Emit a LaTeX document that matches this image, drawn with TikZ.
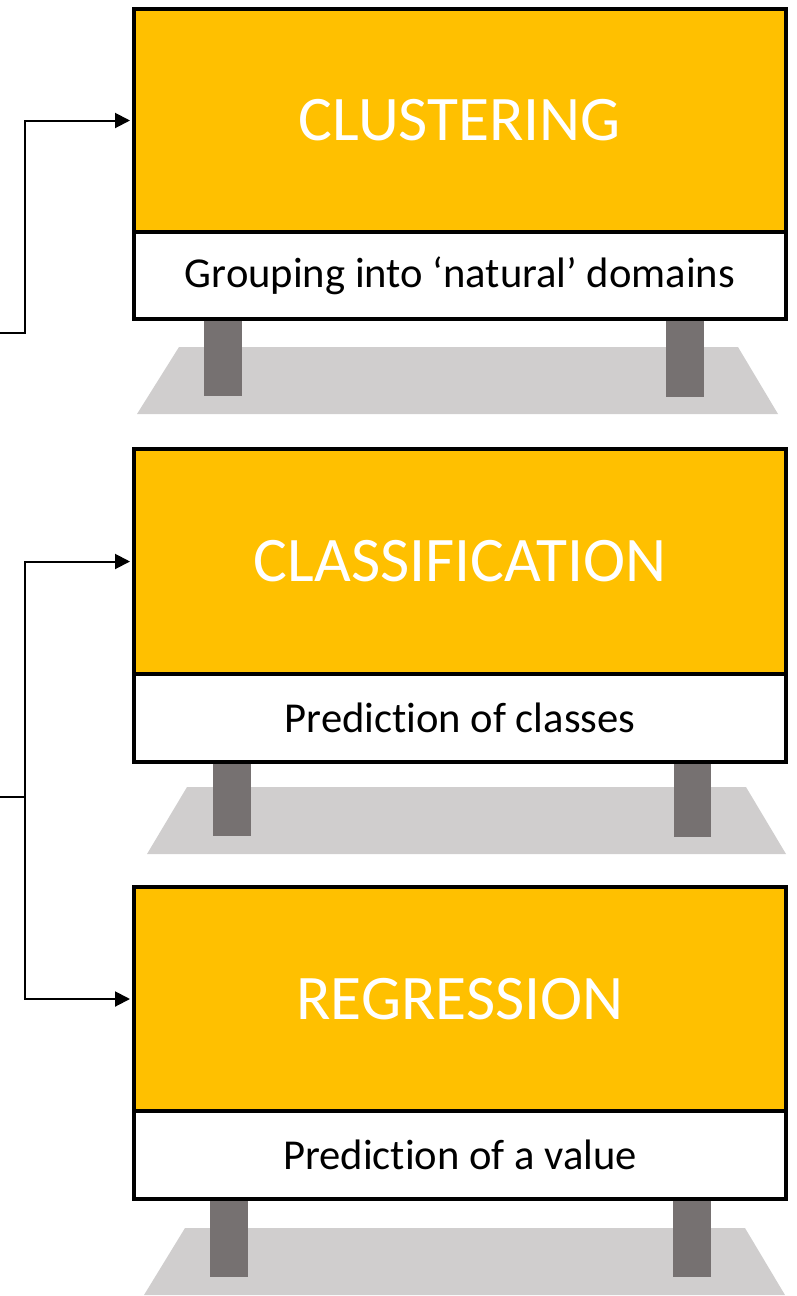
\documentclass[tikz,border=0pt]{standalone}
\usepackage{fontspec}
\setmainfont{Carlito}[Ligatures=NoCommon]
\usetikzlibrary{arrows.meta}
\definecolor{signorange}{HTML}{FFC000}
\definecolor{postgray}{HTML}{767171}
\definecolor{basegray}{HTML}{D0CECE}
\begin{document}
\begin{tikzpicture}[x=1pt,y=-1pt,
  titlebox/.style={draw=black,line width=4pt,fill=signorange,text=white,minimum width=652pt,inner sep=0pt,font=\fontsize{63.5}{70}\selectfont,anchor=north west},
  subbox/.style={draw=black,line width=4pt,fill=white,text=black,minimum width=652pt,inner sep=0pt,font=\fontsize{42.6}{48}\selectfont,anchor=north west},
  postbar/.style={fill=postgray},
  groundbase/.style={fill=basegray},
  conn/.style={line width=2pt,-{Triangle[length=15pt,width=15pt]},shorten >=2pt},
  plainline/.style={line width=2pt}]
\useasboundingbox (0,0) rectangle (797,1296);

% board 1
\fill[groundbase] (179,347) -- (738,347) -- (778,414) -- (137,414) -- cycle;
\fill[postbar] (204,317) rectangle (242,396);
\fill[postbar] (666,317) rectangle (704,397);
\node[titlebox,minimum height=223pt] (t1) at (132,7) {CLUSTERING};
\node[subbox,minimum height=87pt] (s1) at (132,230) {Grouping into ‘natural’ domains};

% board 2
\fill[groundbase] (187,787) -- (746,787) -- (786,854) -- (147,854) -- cycle;
\fill[postbar] (213,759) rectangle (251,836);
\fill[postbar] (674,759) rectangle (711,837);
\node[titlebox,minimum height=225pt] (t2) at (132,447) {CLASSIFICATION};
\node[subbox,minimum height=88pt] (s2) at (132,672) {Prediction of classes};

% board 3
\fill[groundbase] (185,1228) -- (745,1228) -- (785,1295) -- (144,1295) -- cycle;
\fill[postbar] (210,1197) rectangle (248,1277);
\fill[postbar] (673,1197) rectangle (711,1277);
\node[titlebox,minimum height=224pt] (t3) at (132,885) {REGRESSION};
\node[subbox,minimum height=88pt] (s3) at (132,1109) {Prediction of a value};

% connectors
\coordinate (a1) at (0,333);
\coordinate (j1) at (25,333);
\draw[conn] (a1) -- (j1) |- (t1.west);

\coordinate (a2) at (0,797);
\coordinate (j2) at (25,797);
\draw[plainline] (a2) -- (j2);
\draw[conn] (j2) |- (t2.west);
\draw[conn] (j2) |- (t3.west);
\end{tikzpicture}
\end{document}
